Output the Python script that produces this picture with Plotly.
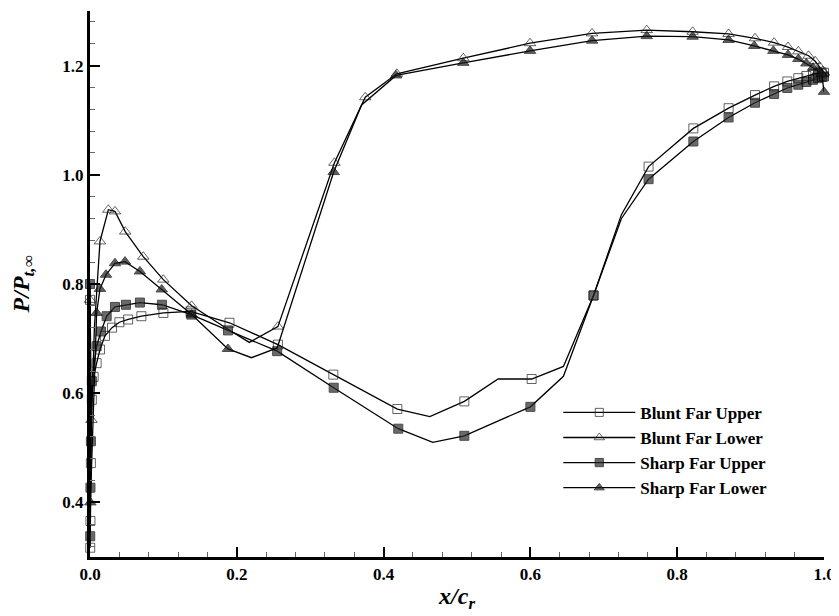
import plotly.graph_objects as go

# ---- data ----
blunt_upper_x = [0.0, 0.0003, 0.0006, 0.0012, 0.0025, 0.005, 0.009, 0.0136, 0.0204, 0.03, 0.04, 0.052, 0.07,
                 0.1, 0.137, 0.19, 0.256, 0.3315, 0.4187, 0.463, 0.51, 0.556, 0.6017, 0.645, 0.686, 0.724,
                 0.761, 0.822, 0.87, 0.906, 0.932, 0.95, 0.965, 0.976, 0.985, 0.992, 0.997, 1.0]
blunt_upper_y = [0.771, 0.317, 0.366, 0.472, 0.588, 0.63, 0.655, 0.68, 0.705, 0.72, 0.73, 0.735, 0.741,
                 0.747, 0.75, 0.729, 0.689, 0.634, 0.571, 0.557, 0.585, 0.626, 0.626, 0.649, 0.779, 0.927,
                 1.015, 1.085, 1.122, 1.146, 1.162, 1.171, 1.177, 1.181, 1.184, 1.186, 1.187, 1.187]
blunt_upper_nomark = [0.463, 0.556, 0.645, 0.724]

blunt_lower_x = [0.0, 0.002, 0.006, 0.0136, 0.025, 0.034, 0.048, 0.0726, 0.0999, 0.1385, 0.188, 0.217,
                 0.256, 0.333, 0.375, 0.418, 0.5086, 0.5995, 0.684, 0.7585, 0.821, 0.87, 0.906, 0.932,
                 0.951, 0.965, 0.979, 0.988, 0.994, 0.998, 1.0]
blunt_lower_y = [0.771, 0.551, 0.72, 0.878, 0.936, 0.933, 0.896, 0.85, 0.808, 0.760, 0.717, 0.693,
                 0.722, 1.022, 1.142, 1.185, 1.2135, 1.241, 1.259, 1.265, 1.262, 1.258, 1.25, 1.242,
                 1.234, 1.226, 1.218, 1.208, 1.198, 1.19, 1.187]
blunt_lower_nomark = [0.006, 0.188, 0.217]

sharp_upper_x = [0.0, 0.0003, 0.0006, 0.0012, 0.0025, 0.009, 0.015, 0.0227, 0.034, 0.049, 0.068, 0.098,
                 0.138, 0.188, 0.255, 0.332, 0.42, 0.467, 0.51, 0.60, 0.645, 0.686, 0.724, 0.761, 0.822,
                 0.87, 0.906, 0.932, 0.95, 0.965, 0.976, 0.985, 0.992, 0.997, 1.0]
sharp_upper_y = [0.80, 0.338, 0.427, 0.512, 0.622, 0.686, 0.713, 0.741, 0.758, 0.762, 0.766, 0.762,
                 0.744, 0.715, 0.677, 0.61, 0.535, 0.51, 0.522, 0.575, 0.631, 0.779, 0.92, 0.992, 1.061,
                 1.105, 1.132, 1.148, 1.159, 1.165, 1.17, 1.174, 1.177, 1.179, 1.18]
sharp_upper_nomark = [0.467, 0.645, 0.724]

sharp_lower_x = [0.0, 0.0005, 0.009, 0.0136, 0.0218, 0.034, 0.0477, 0.068, 0.0977, 0.1385, 0.188, 0.22,
                 0.255, 0.332, 0.370, 0.417, 0.5086, 0.5995, 0.684, 0.7585, 0.821, 0.87, 0.905, 0.931,
                 0.951, 0.965, 0.976, 0.985, 0.992, 0.997, 1.0]
sharp_lower_y = [0.80, 0.40, 0.747, 0.791, 0.817, 0.838, 0.841, 0.823, 0.790, 0.744, 0.681, 0.665,
                 0.683, 1.005, 1.128, 1.182, 1.205, 1.227, 1.2457, 1.254, 1.253, 1.247, 1.236, 1.227,
                 1.2196, 1.212, 1.204, 1.196, 1.19, 1.185, 1.152]
sharp_lower_nomark = [0.0, 0.22, 0.255, 0.370]

series_names = ["Blunt Far Upper", "Blunt Far Lower", "Sharp Far Upper", "Sharp Far Lower"]

FONT = "Liberation Serif, Times New Roman, serif"

fig = go.Figure()

specs = [
    (series_names[0], blunt_upper_x, blunt_upper_y, blunt_upper_nomark, "square-open", 9, "#222"),
    (series_names[1], blunt_lower_x, blunt_lower_y, blunt_lower_nomark, "triangle-up-open", 10, "#222"),
    (series_names[2], sharp_upper_x, sharp_upper_y, sharp_upper_nomark, "square", 9, "#2a2a2a"),
    (series_names[3], sharp_lower_x, sharp_lower_y, sharp_lower_nomark, "triangle-up", 10, "#1a1a1a"),
]

for name, xs, ys, nomark, sym, ms, mc in specs:
    sizes = [0 if x in nomark else ms for x in xs]
    fig.add_trace(go.Scatter(
        x=xs, y=ys, name=name, mode="lines+markers",
        line=dict(color="black", width=1.3),
        marker=dict(symbol=sym, size=sizes, color=mc,
                    line=dict(color="black", width=1)),
        cliponaxis=False,
    ))

# the page body adds an 8px offset, so margins are shifted to compensate
fig.update_layout(
    width=839, height=616,
    margin=dict(l=82, r=23, t=3, b=67),
    paper_bgcolor="white", plot_bgcolor="white",
    font=dict(family=FONT, color="black"),
    legend=dict(
        x=0.638, y=0.297, xanchor="left", yanchor="top",
        font=dict(family=FONT, size=17, weight="bold"),
        itemwidth=72, itemsizing="trace",
        bgcolor="rgba(0,0,0,0)", tracegroupgap=0,
    ),
    showlegend=True,
)

fig.update_xaxes(
    range=[0, 1], tick0=0, dtick=0.2, tickformat=".1f", automargin=False,
    showline=True, linewidth=3, linecolor="black", mirror=False,
    ticks="inside", ticklen=10, tickwidth=2, tickcolor="black",
    minor=dict(ticks="inside", ticklen=5, tickwidth=1, tickcolor="#666", dtick=0.04, tick0=0),
    showgrid=False, zeroline=False,
    tickfont=dict(family=FONT, size=17, weight="bold"),
    title=dict(text="<i>x/c<sub>r</sub></i>", font=dict(family=FONT, size=24, weight="bold"), standoff=4),
)
fig.update_yaxes(
    range=[0.3, 1.3], tick0=0, dtick=0.2, tickformat=".1f", automargin=False,
    showline=True, linewidth=3, linecolor="black", mirror=False,
    ticks="inside", ticklen=10, tickwidth=2, tickcolor="black",
    minor=dict(ticks="inside", ticklen=5, tickwidth=1, tickcolor="#666", dtick=0.04, tick0=0),
    showgrid=False, zeroline=False,
    tickfont=dict(family=FONT, size=17, weight="bold"),
    title=dict(text="<i>P/P<sub>t,∞</sub></i>", font=dict(family=FONT, size=24, weight="bold"), standoff=28),
)

fig.write_html("out.html")
